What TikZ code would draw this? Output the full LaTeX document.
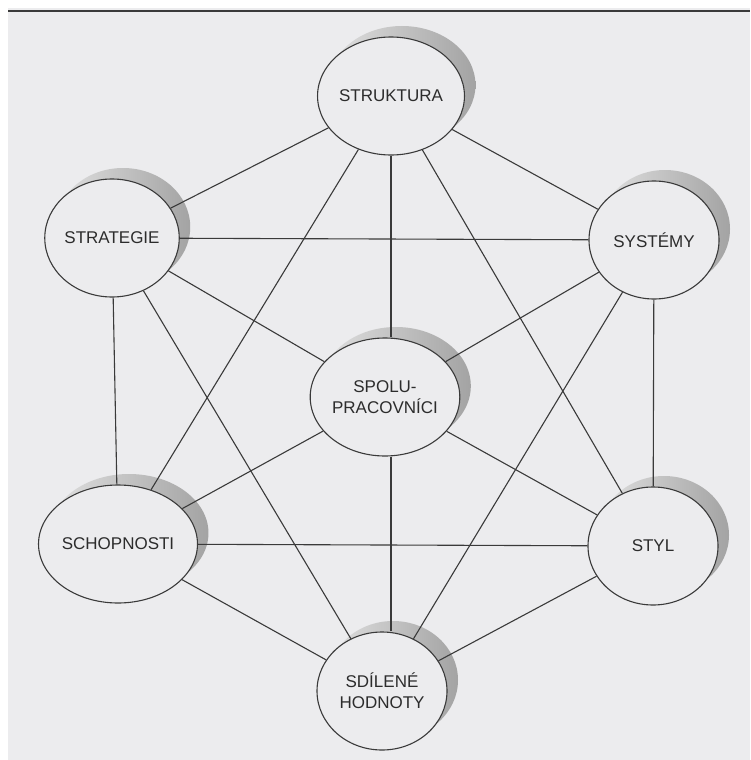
\documentclass[tikz,border=0pt]{standalone}
\usepackage{fontspec}
\setmainfont{Liberation Sans}
\usetikzlibrary{shapes.geometric,shadows}
\definecolor{paper}{HTML}{ECECEE}
\definecolor{ink}{HTML}{3A3A3A}
\definecolor{txt}{HTML}{2C2C2C}
\begin{document}
\begin{tikzpicture}[x=1pt,y=-1pt,
  sbox/.style={ellipse, draw=ink, line width=1.1pt, fill=paper,
    minimum width=130pt, minimum height=118pt, inner sep=0pt,
    align=center, text=txt, font=\fontsize{17}{21}\selectfont,
    general shadow={shadow xshift=11pt, shadow yshift=11pt,
      shading=axis, shading angle=120,
      left color=black!12, right color=black!36}},
  link/.style={draw=ink, line width=1.1pt}]
  % page area
  \fill[white] (0,0) rectangle (750,760);
  \fill[paper] (8,8) rectangle (750,760);
  \useasboundingbox (0,0) rectangle (750,760);
  \coordinate (rl) at (8,11);
  \coordinate (rr) at (750,11);
  \draw[ink, line width=1.4pt] (rl) -- (rr);

  % the seven elements
  \node[sbox] (stru)  at (391,96)  {STRUKTURA};
  \node[sbox] (strat) at (112,238) {STRATEGIE};
  \node[sbox] (sys)   at (654,240) {SYSTÉMY};
  \node[sbox] (spolu) at (385,397) {SPOLU-\\PRACOVNÍCI};
  \node[sbox] (schop) at (118,544) {SCHOPNOSTI};
  \node[sbox] (styl)  at (653,546) {STYL};
  \node[sbox] (sdil)  at (382,691) {SDÍLENÉ\\HODNOTY};

  % outer ring
  \path[link] (stru) -- (strat);
  \path[link] (stru) -- (sys);
  \path[link] (strat) -- (schop);
  \path[link] (sys) -- (styl);
  \path[link] (schop) -- (sdil);
  \path[link] (styl) -- (sdil);
  % chords
  \path[link] (stru) -- (schop);
  \path[link] (stru) -- (styl);
  \path[link] (strat) -- (sys);
  \path[link] (strat) -- (sdil);
  \path[link] (sys) -- (sdil);
  \path[link] (schop) -- (styl);
  % spokes to the centre
  \path[link] (stru) -- (stru |- spolu.north);
  \path[link] (stru |- spolu.south) -- (stru |- sdil.north);
  \foreach \n in {strat,sys,schop,styl}
    \path[link] (spolu) -- (\n);
\end{tikzpicture}
\end{document}
